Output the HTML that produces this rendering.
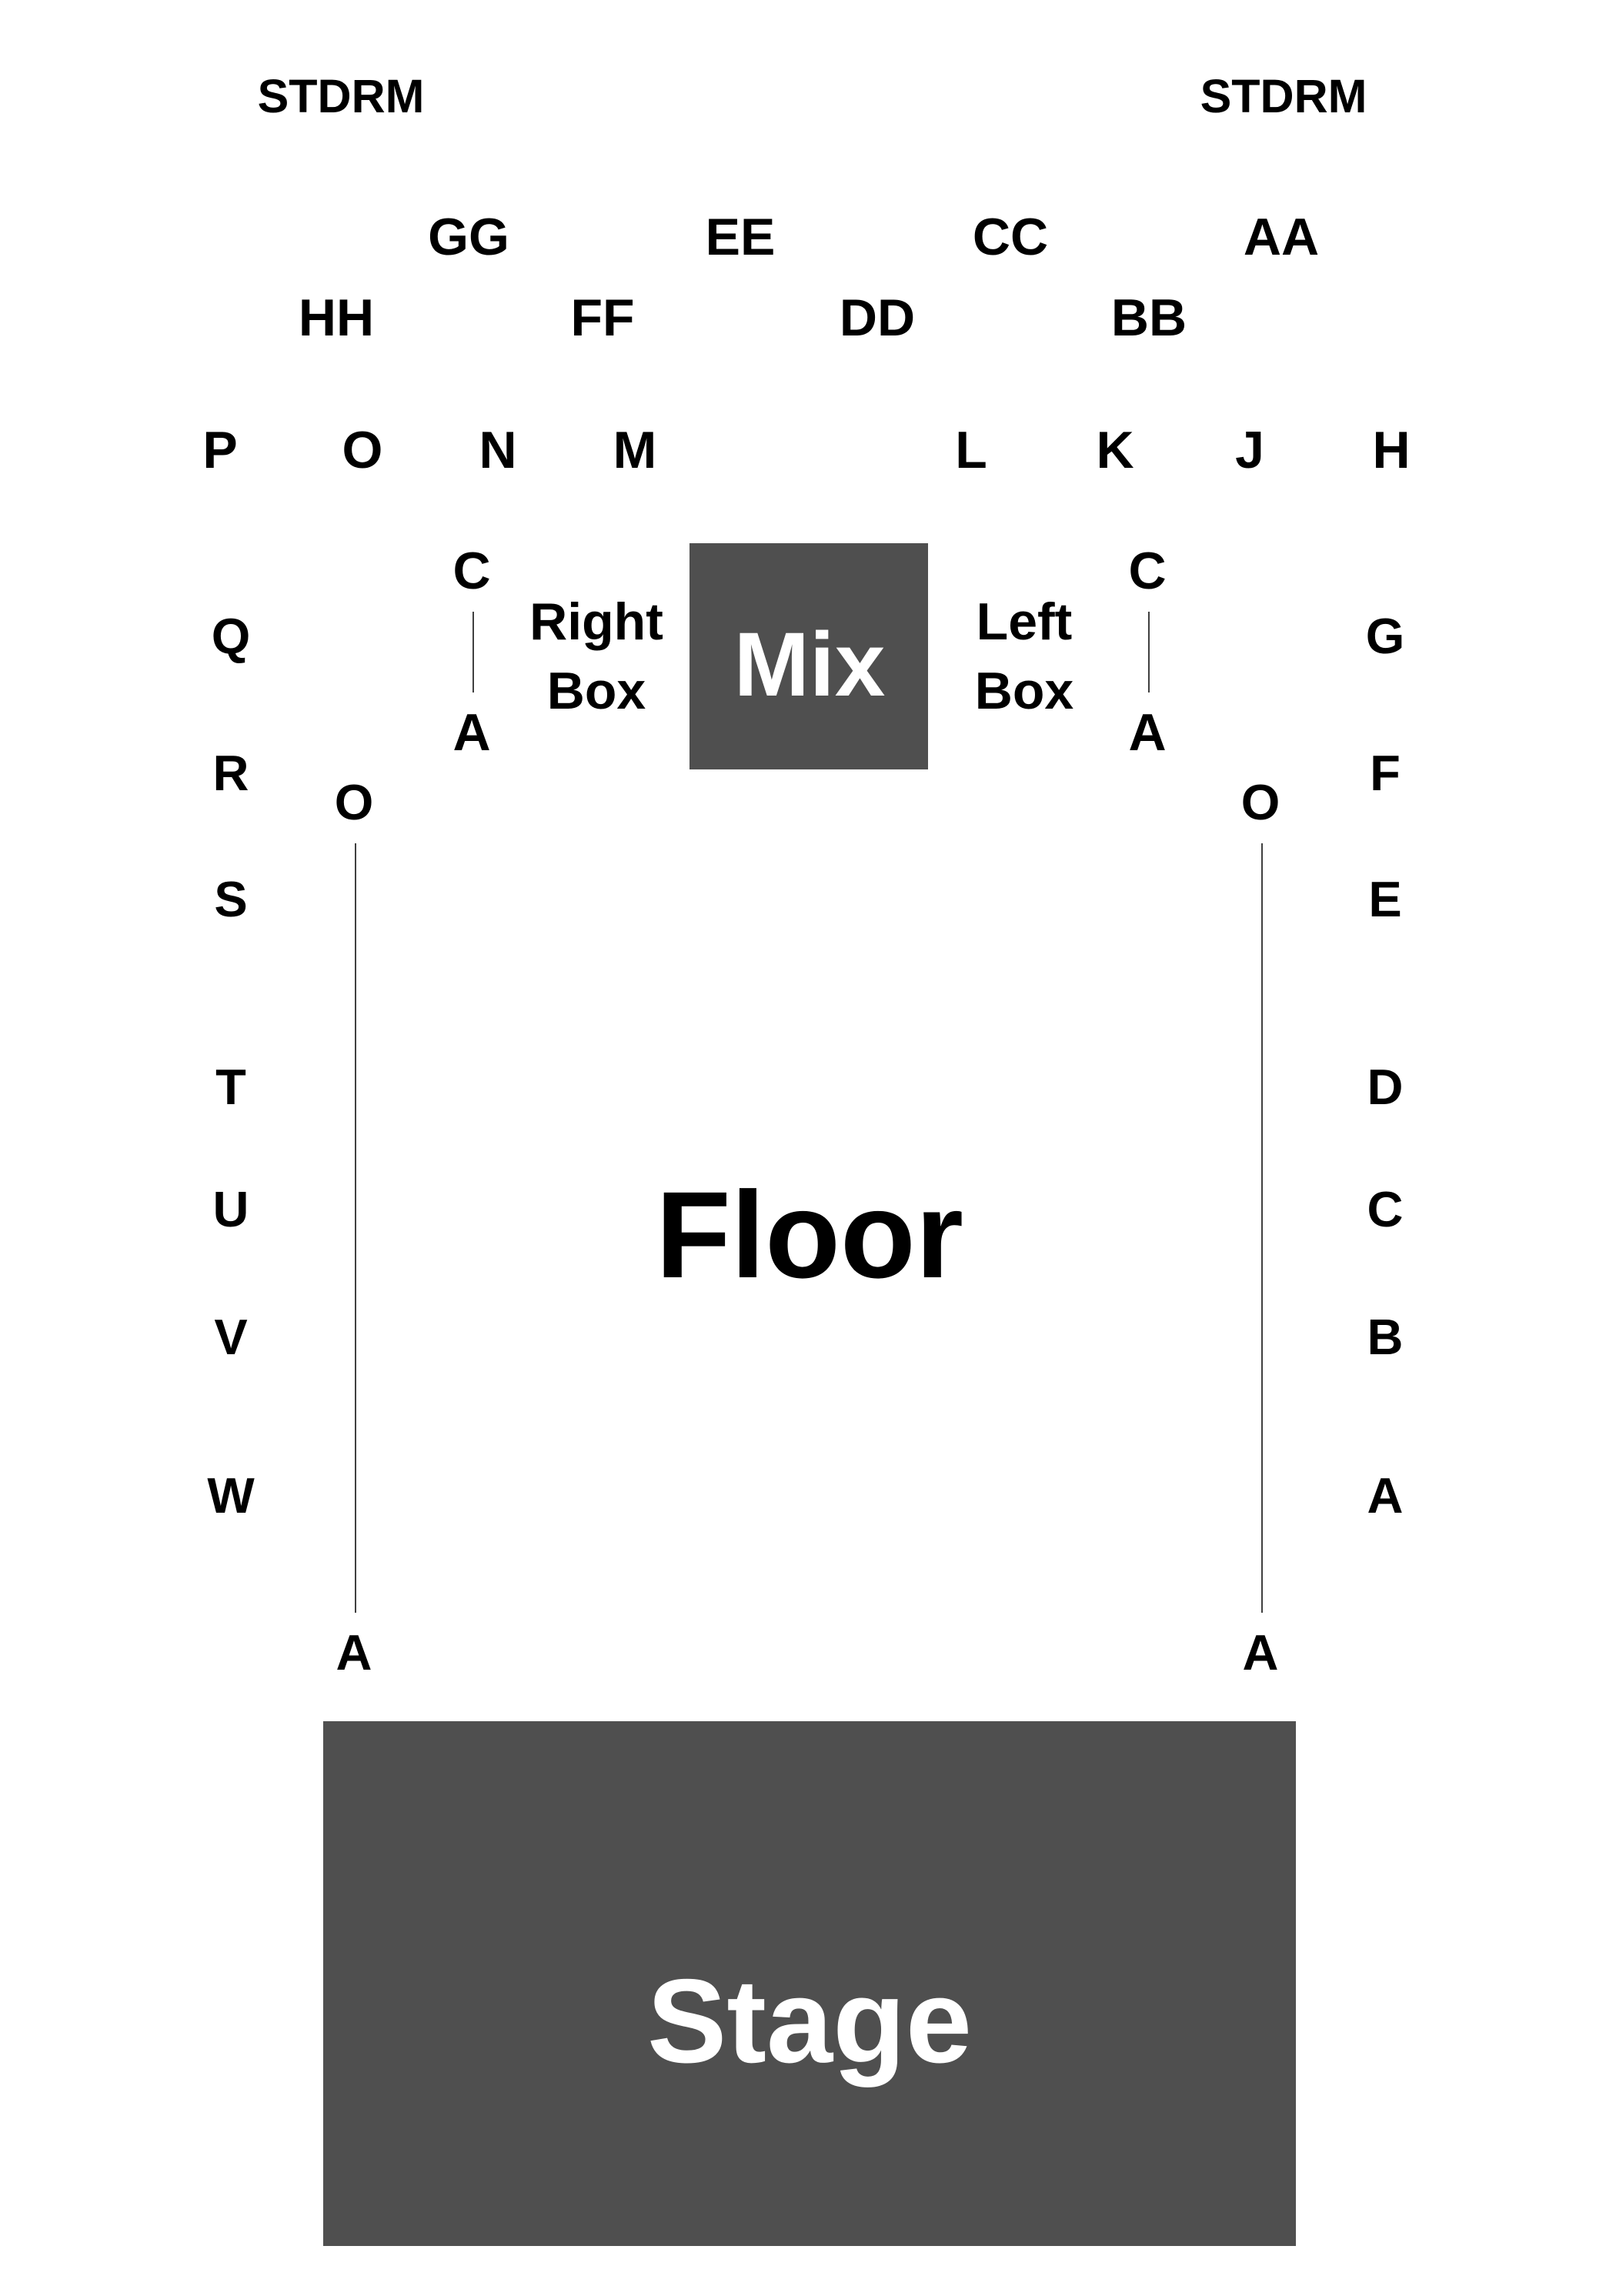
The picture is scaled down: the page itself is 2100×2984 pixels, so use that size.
<!DOCTYPE html>
<html><head><meta charset="utf-8"><style>
html,body{margin:0;padding:0;background:#fff;}
svg{display:block;}
text{font-family:"Liberation Sans",Arial,sans-serif;font-weight:bold;text-anchor:middle;fill:#000;}
</style></head><body>
<svg width="2100" height="2984" viewBox="0 0 2100 2984" xmlns="http://www.w3.org/2000/svg">
<rect x="0" y="0" width="2100" height="2984" fill="#fff"/>
<rect x="896" y="706" width="310" height="294" fill="#4f4f4f"/>
<rect x="420" y="2237" width="1264" height="682" fill="#4f4f4f"/>
<line x1="462" y1="1096" x2="462" y2="2096" stroke="#000" stroke-width="1.5"/>
<line x1="1640" y1="1096" x2="1640" y2="2096" stroke="#000" stroke-width="1.5"/>
<line x1="615" y1="795" x2="615" y2="900" stroke="#000" stroke-width="1.5"/>
<line x1="1493" y1="795" x2="1493" y2="900" stroke="#000" stroke-width="1.5"/>
<g transform="translate(-2,-4)">
<g font-size="61">
<text x="445" y="150">STDRM</text>
<text x="1670" y="150">STDRM</text>
</g>
<g font-size="68">
<text x="611" y="335">GG</text><text x="964" y="335">EE</text><text x="1315" y="335">CC</text><text x="1667" y="335">AA</text>
<text x="439" y="440">HH</text><text x="785" y="440">FF</text><text x="1142" y="440">DD</text><text x="1495" y="440">BB</text>
<text x="288" y="612">P</text><text x="473" y="612">O</text><text x="649" y="612">N</text><text x="827" y="612">M</text>
<text x="1264" y="612">L</text><text x="1451" y="612">K</text><text x="1626" y="612">J</text><text x="1810" y="612">H</text>
<text x="615" y="769">C</text><text x="615" y="979">A</text>
<text x="1493" y="769">C</text><text x="1493" y="979">A</text>
<text x="777" y="835">Right</text><text x="777" y="925">Box</text>
<text x="1333" y="835">Left</text><text x="1333" y="925">Box</text>
</g>
<g font-size="65">
<text x="302" y="853">Q</text><text x="302" y="1031">R</text><text x="302" y="1195">S</text><text x="302" y="1439">T</text>
<text x="302" y="1598">U</text><text x="302" y="1764">V</text><text x="302" y="1970">W</text>
<text x="1802" y="853">G</text><text x="1802" y="1031">F</text><text x="1802" y="1195">E</text><text x="1802" y="1439">D</text>
<text x="1802" y="1598">C</text><text x="1802" y="1764">B</text><text x="1802" y="1970">A</text>
<text x="462" y="1069">O</text><text x="1640" y="1069">O</text>
<text x="462" y="2174">A</text><text x="1640" y="2174">A</text>
</g>
</g>
<text x="1052" y="904" font-size="118" style="fill:#fff">Mix</text>
<text x="1052" y="1660" font-size="160">Floor</text>
<text x="1052" y="2680" font-size="155" style="fill:#fff">Stage</text>
</svg>
</body></html>
